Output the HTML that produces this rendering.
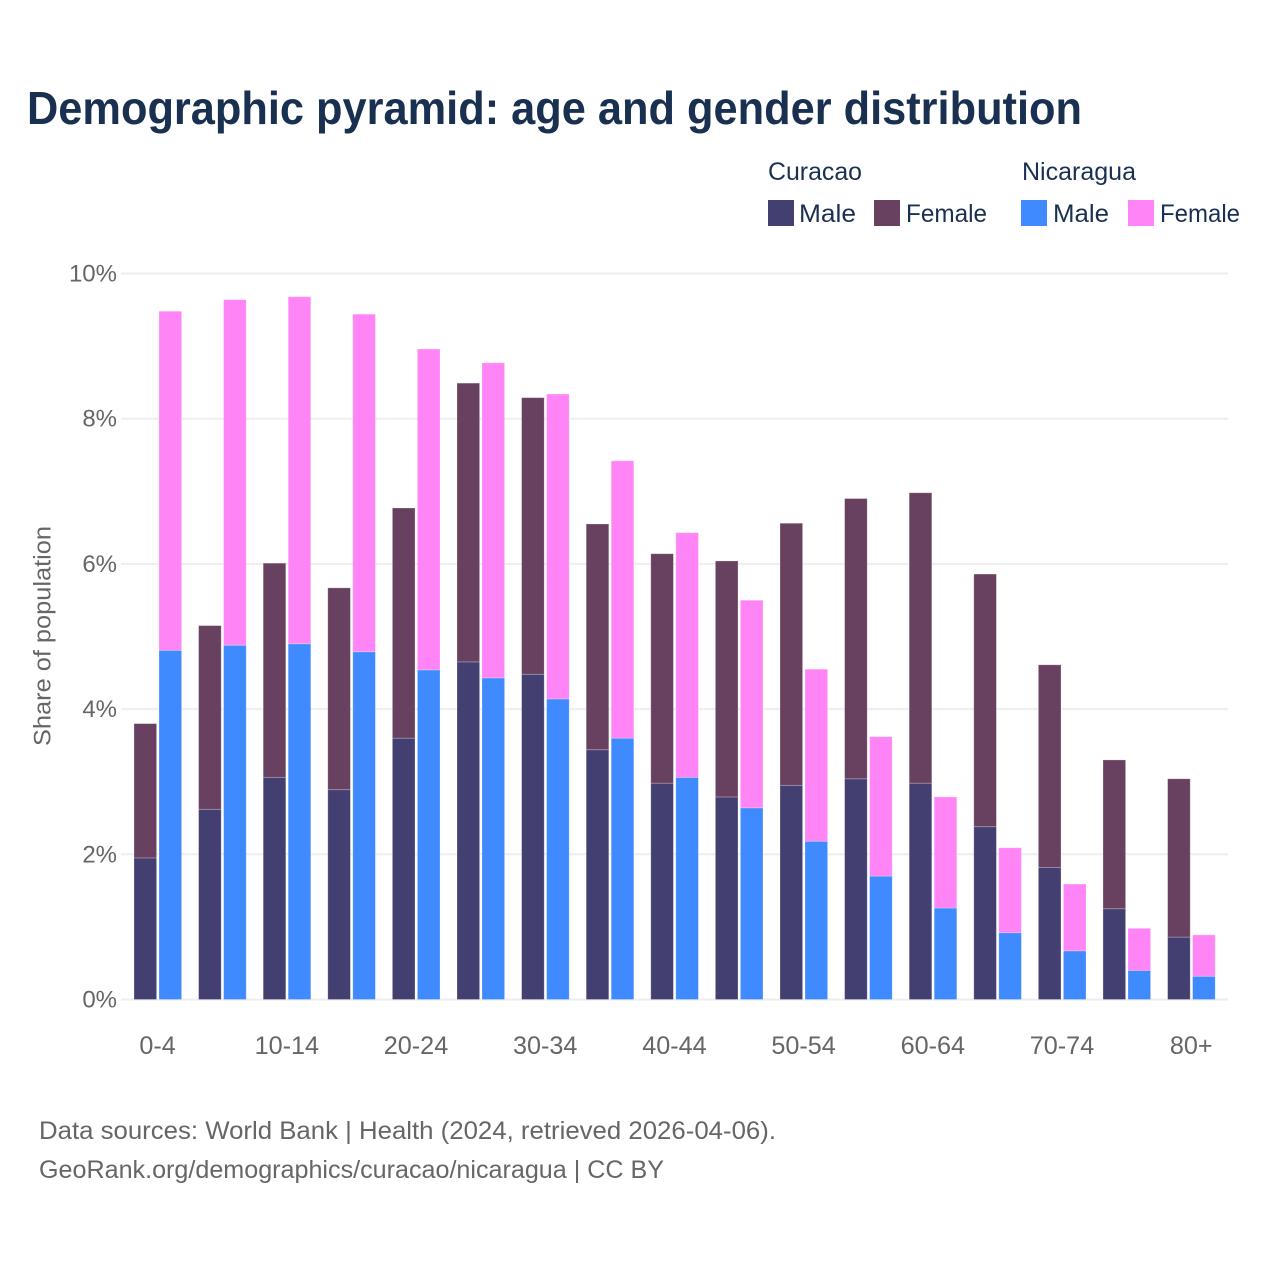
<!DOCTYPE html>
<html lang="en">
<head>
<meta charset="utf-8">
<title>Demographic pyramid: age and gender distribution</title>
<style>
html,body{margin:0;padding:0;background:#fff}
svg{display:block}
text{font-family:"Liberation Sans",sans-serif}
</style>
</head>
<body>
<svg id="chart" width="1280" height="1280" viewBox="0 0 1280 1280" xmlns="http://www.w3.org/2000/svg">
  <rect x="0" y="0" width="1280" height="1280" fill="#ffffff"/>
  <text x="27" y="124" font-size="46" font-weight="700" fill="#1a3050" textLength="1055" lengthAdjust="spacingAndGlyphs">Demographic pyramid: age and gender distribution</text>

  <g id="grid"></g>
  <g id="ylabels"></g>
  <g id="bars"></g>
  <g id="xlabels"></g>

  <text transform="translate(50.5,636) rotate(-90)" text-anchor="middle" font-size="24" fill="#666666" textLength="220" lengthAdjust="spacingAndGlyphs">Share of population</text>

  <g>
    <text x="768" y="180" font-size="25" fill="#1a3050" textLength="94" lengthAdjust="spacingAndGlyphs">Curacao</text>
    <text x="1022" y="180" font-size="25" fill="#1a3050" textLength="114" lengthAdjust="spacingAndGlyphs">Nicaragua</text>
    <rect x="768" y="200" width="26" height="26" fill="#433f71"/>
    <text x="799" y="222" font-size="25" fill="#1a3050" textLength="57" lengthAdjust="spacingAndGlyphs">Male</text>
    <rect x="874" y="200" width="26" height="26" fill="#684161"/>
    <text x="906" y="222" font-size="25" fill="#1a3050" textLength="81" lengthAdjust="spacingAndGlyphs">Female</text>
    <rect x="1021" y="200" width="26" height="26" fill="#3f8aff"/>
    <text x="1053" y="222" font-size="25" fill="#1a3050" textLength="56" lengthAdjust="spacingAndGlyphs">Male</text>
    <rect x="1128" y="200" width="26" height="26" fill="#ff85f7"/>
    <text x="1160" y="222" font-size="25" fill="#1a3050" textLength="80" lengthAdjust="spacingAndGlyphs">Female</text>
  </g>

  <text x="39" y="1139" font-size="25" fill="#666666" textLength="737" lengthAdjust="spacingAndGlyphs">Data sources: World Bank | Health (2024, retrieved 2026-04-06).</text>
  <text x="39" y="1178" font-size="25" fill="#666666" textLength="625" lengthAdjust="spacingAndGlyphs">GeoRank.org/demographics/curacao/nicaragua | CC BY</text>
</svg>
<script>
const categories = ['0-4','5-9','10-14','15-19','20-24','25-29','30-34','35-39','40-44','45-49','50-54','55-59','60-64','65-69','70-74','75-79','80+'];
const curacaoMale = [1.95,2.62,3.06,2.89,3.60,4.65,4.48,3.44,2.98,2.79,2.95,3.04,2.98,2.38,1.82,1.25,0.86];
const curacaoFemale = [1.85,2.53,2.95,2.78,3.17,3.84,3.81,3.11,3.16,3.25,3.61,3.86,4.00,3.48,2.79,2.05,2.18];
const nicaraguaMale = [4.81,4.88,4.90,4.79,4.54,4.43,4.14,3.60,3.06,2.64,2.18,1.70,1.26,0.92,0.67,0.40,0.32];
const nicaraguaFemale = [4.67,4.76,4.78,4.65,4.42,4.34,4.20,3.82,3.37,2.86,2.37,1.92,1.53,1.17,0.92,0.58,0.57];
const yTicks = [0,2,4,6,8,10];

const NS = 'http://www.w3.org/2000/svg';
const COLORS = {curacaoMale:'#433f71', curacaoFemale:'#684161', nicaraguaMale:'#3f8aff', nicaraguaFemale:'#ff85f7'};

function yScale(v){ return 999.5 - v * 72.6; }
function groupLeft(i){ return 134 + i * 64.6; }

function makeEl(tag, attrs){
  const el = document.createElementNS(NS, tag);
  for (const k in attrs) el.setAttribute(k, attrs[k]);
  return el;
}

const gridG = document.getElementById('grid');
const yLabG = document.getElementById('ylabels');
yTicks.forEach(function(t){
  const line = makeEl('line', {x1:121, x2:1228, y1:yScale(t), y2:yScale(t), stroke:'#eeeeee', 'stroke-width':2});
  
  
  gridG.appendChild(line);
  const lab = makeEl('text', {x:117, y:yScale(t)+8, 'text-anchor':'end', 'font-size':24, fill:'#666666'});
  
  
  lab.textContent = t + '%';
  yLabG.appendChild(lab);
});

const barsG = document.getElementById('bars');
function addBar(x, base, val, color, name){
  const r = makeEl('rect', {x:x, y:yScale(base+val), width:22.6, height:yScale(base)-yScale(base+val), fill:color, stroke:'#ffffff', 'stroke-opacity':0.3, 'stroke-width':0.8});
  
  
  barsG.appendChild(r);
}
const xLabG = document.getElementById('xlabels');
categories.forEach(function(cat, i){
  const left = groupLeft(i);
  const right = left + 25;
  addBar(left, 0, curacaoMale[i], COLORS.curacaoMale, 'bar-curacao-male-' + cat);
  addBar(left, curacaoMale[i], curacaoFemale[i], COLORS.curacaoFemale, 'bar-curacao-female-' + cat);
  addBar(right, 0, nicaraguaMale[i], COLORS.nicaraguaMale, 'bar-nicaragua-male-' + cat);
  addBar(right, nicaraguaMale[i], nicaraguaFemale[i], COLORS.nicaraguaFemale, 'bar-nicaragua-female-' + cat);
  if (i % 2 === 0) {
    const lab = makeEl('text', {x:left+23.6, y:1054, 'text-anchor':'middle', 'font-size':25.2, fill:'#666666'});
    
    
    lab.textContent = cat;
    xLabG.appendChild(lab);
  }
});
</script>
</body>
</html>
